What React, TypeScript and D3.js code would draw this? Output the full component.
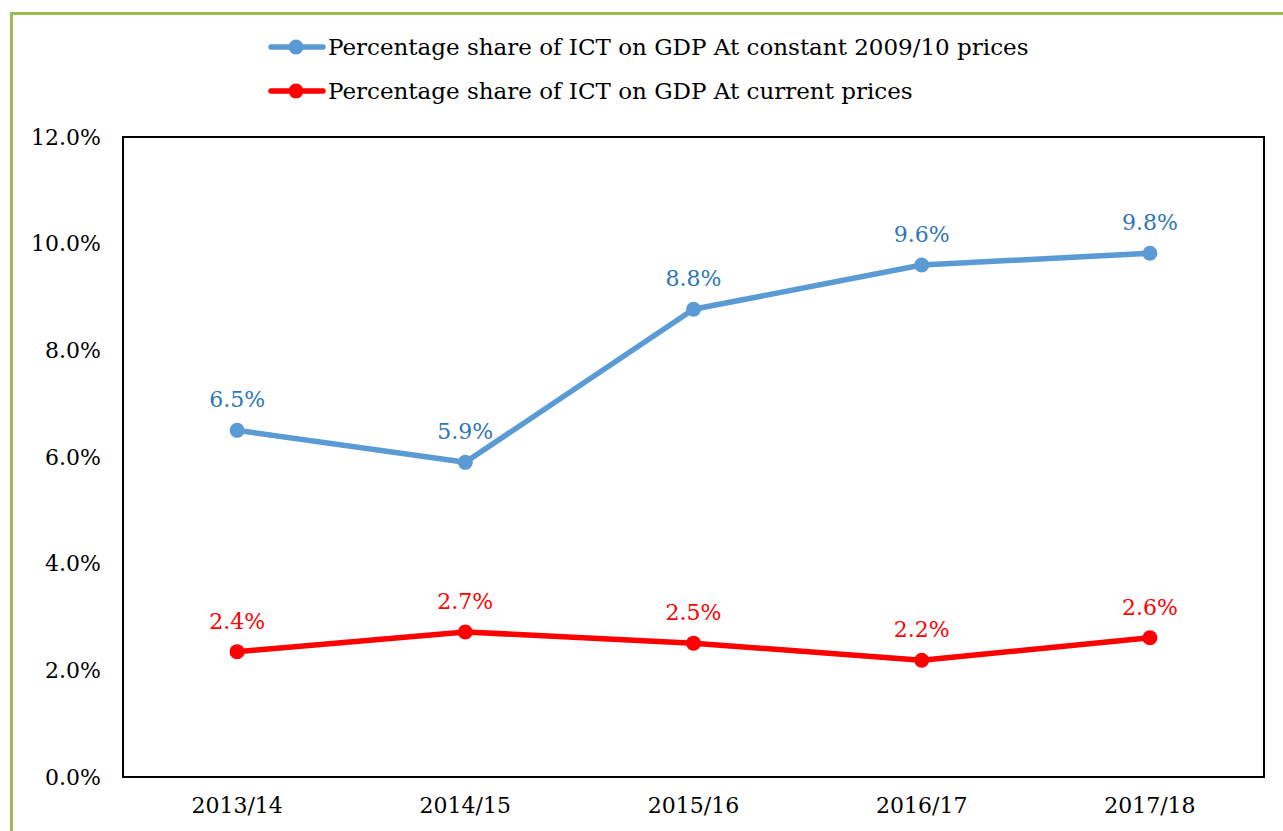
import React, { useEffect, useRef } from 'react';
import * as d3 from 'd3';

const years = ['2013/14', '2014/15', '2015/16', '2016/17', '2017/18'];
const constantPrices = [6.5, 5.9, 8.77, 9.6, 9.82];
const currentPrices = [2.35, 2.72, 2.51, 2.19, 2.61];
const constantLabels = ['6.5%', '5.9%', '8.8%', '9.6%', '9.8%'];
const currentLabels = ['2.4%', '2.7%', '2.5%', '2.2%', '2.6%'];
const yTicks = [0, 2, 4, 6, 8, 10, 12];

const seriesNames = [
  'Percentage share of ICT on GDP At constant 2009/10 prices',
  'Percentage share of ICT on GDP At current prices',
];

const W = 1283;
const H = 831;
const plot = { left: 123, right: 1264, top: 137, bottom: 777 };
const font = '"DejaVu Serif", serif';

const App = () => {
  const ref = useRef<SVGSVGElement>(null);

  useEffect(() => {
    const svg = d3.select(ref.current);
    svg.selectAll('*').remove();

    // green outer frame (left + top only visible)
    svg.append('path')
      .attr('d', `M11.5,${H} L11.5,13.5 L${W},13.5`)
      .attr('fill', 'none')
      .attr('stroke', '#9BBB59')
      .attr('stroke-width', 3);

    const x = d3.scaleBand()
      .domain(years)
      .range([plot.left, plot.right]);
    const y = d3.scaleLinear()
      .domain([0, 12])
      .range([plot.bottom, plot.top]);
    const cx = (d: string) => (x(d) as number) + x.bandwidth() / 2;

    svg.append('rect')
      .attr('x', plot.left)
      .attr('y', plot.top)
      .attr('width', plot.right - plot.left)
      .attr('height', plot.bottom - plot.top)
      .attr('fill', 'none')
      .attr('stroke', '#000')
      .attr('stroke-width', 2);

    const yAxis = svg.append('g')
      .attr('transform', `translate(${plot.left},0)`)
      .call(d3.axisLeft(y).tickValues(yTicks).tickSize(0).tickPadding(22)
        .tickFormat((d) => `${(+d).toFixed(1)}%`));
    yAxis.select('.domain').remove();
    yAxis.selectAll('text')
      .attr('font-family', font)
      .attr('font-size', 22)
      .attr('fill', '#000');

    const xAxis = svg.append('g')
      .attr('transform', `translate(0,${plot.bottom})`)
      .call(d3.axisBottom(x).tickSize(0).tickPadding(20));
    xAxis.select('.domain').remove();
    xAxis.selectAll('text')
      .attr('font-family', font)
      .attr('font-size', 22)
      .attr('fill', '#000');

    const series = [
      { values: constantPrices, labels: constantLabels, color: '#5B9BD5', labelColor: '#2E75B6' },
      { values: currentPrices, labels: currentLabels, color: '#FF0000', labelColor: '#FF0000' },
    ];

    series.forEach((s) => {
      const line = d3.line<number>()
        .x((_, i) => cx(years[i]))
        .y((d) => y(d));
      svg.append('path')
        .datum(s.values)
        .attr('d', line)
        .attr('fill', 'none')
        .attr('stroke', s.color)
        .attr('stroke-width', 5.5)
        .attr('stroke-linejoin', 'round');
      svg.selectAll(null)
        .data(s.values)
        .enter()
        .append('circle')
        .attr('cx', (_, i) => cx(years[i]))
        .attr('cy', (d) => y(d))
        .attr('r', 7.5)
        .attr('fill', s.color);
      svg.selectAll(null)
        .data(s.values)
        .enter()
        .append('text')
        .attr('x', (_, i) => cx(years[i]))
        .attr('y', (d) => y(d) - 23)
        .attr('text-anchor', 'middle')
        .attr('font-family', font)
        .attr('font-size', 22)
        .attr('fill', s.labelColor)
        .text((_, i) => s.labels[i]);
    });

    // legend
    series.forEach((s, i) => {
      const ly = 47 + i * 44;
      const g = svg.append('g');
      g.append('line')
        .attr('x1', 271).attr('x2', 323)
        .attr('y1', ly).attr('y2', ly)
        .attr('stroke', s.color)
        .attr('stroke-width', 5.5)
        .attr('stroke-linecap', 'round');
      g.append('circle')
        .attr('cx', 296).attr('cy', ly).attr('r', 7.5)
        .attr('fill', s.color);
      g.append('text')
        .attr('x', 328)
        .attr('y', ly + 8)
        .attr('font-family', font)
        .attr('font-size', 23)
        .attr('fill', '#000')
        .text(seriesNames[i]);
    });
  }, []);

  return (
    <div style={{ position: 'absolute', left: 0, top: 0 }}>
      <svg ref={ref} width={W} height={H} style={{ display: 'block', background: '#fff' }} />
    </div>
  );
};

export default App;
